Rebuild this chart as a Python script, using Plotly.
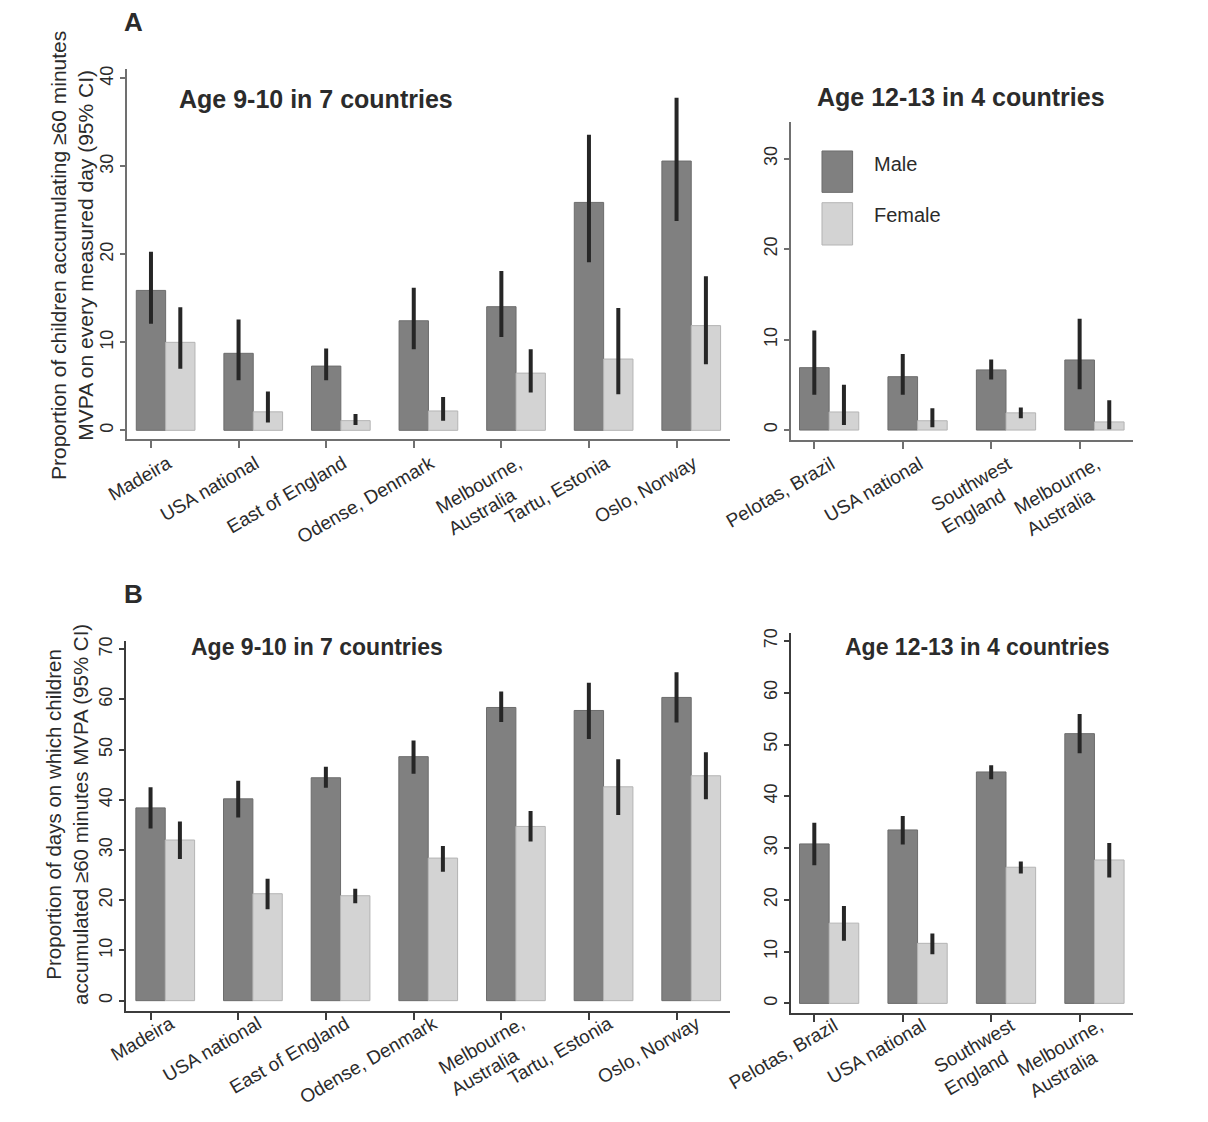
import plotly.graph_objects as go

# ---------------- data ----------------
sites_young = ["Madeira", "USA national", "East of England", "Odense, Denmark",
               "Melbourne,<br>Australia", "Tartu, Estonia", "Oslo, Norway"]
sites_old = ["Pelotas, Brazil", "USA national", "Southwest<br>England", "Melbourne,<br>Australia"]

# Panel A: proportion of children accumulating >=60 min MVPA every day
a_young_male = [15.9, 8.75, 7.3, 12.45, 14.05, 25.9, 30.6]
a_young_male_lo = [12.1, 5.7, 5.7, 9.2, 10.6, 19.1, 23.8]
a_young_male_hi = [20.3, 12.6, 9.3, 16.2, 18.1, 33.6, 37.8]
a_young_female = [10.0, 2.1, 1.1, 2.2, 6.5, 8.1, 11.9]
a_young_female_lo = [7.0, 0.9, 0.6, 1.1, 4.3, 4.1, 7.5]
a_young_female_hi = [14.0, 4.4, 1.85, 3.8, 9.2, 13.9, 17.5]

a_old_male = [6.9, 5.9, 6.65, 7.75]
a_old_male_lo = [3.9, 3.9, 5.6, 4.5]
a_old_male_hi = [11.0, 8.4, 7.8, 12.3]
a_old_female = [2.0, 1.03, 1.9, 0.9]
a_old_female_lo = [0.55, 0.3, 1.3, 0.08]
a_old_female_hi = [5.0, 2.4, 2.5, 3.3]

# Panel B: proportion of days with >=60 min MVPA
b_young_male = [38.4, 40.2, 44.4, 48.6, 58.4, 57.8, 60.4]
b_young_male_lo = [34.3, 36.5, 42.4, 45.2, 55.5, 52.1, 55.4]
b_young_male_hi = [42.5, 43.8, 46.6, 51.8, 61.6, 63.3, 65.4]
b_young_female = [32.0, 21.3, 20.9, 28.4, 34.7, 42.6, 44.8]
b_young_female_lo = [28.2, 18.2, 19.4, 25.7, 31.7, 37.0, 40.1]
b_young_female_hi = [35.7, 24.3, 22.3, 30.8, 37.8, 48.1, 49.5]

b_old_male = [30.8, 33.5, 44.7, 52.1]
b_old_male_lo = [26.7, 30.7, 43.3, 48.3]
b_old_male_hi = [34.9, 36.2, 46.0, 55.9]
b_old_female = [15.5, 11.6, 26.3, 27.7]
b_old_female_lo = [12.1, 9.5, 25.1, 24.3]
b_old_female_hi = [18.8, 13.5, 27.4, 31.0]

# ---------------- style ----------------
FONT = "Liberation Sans, Arial, sans-serif"
TXT = "#2b2b2b"
MALE = "#808080"
FEMALE = "#d3d3d3"
ERR = "#262626"
W = 0.335

fig = go.Figure()


def add_pair(cats, male, mlo, mhi, female, flo, fhi, xa, ya):
    fig.add_trace(go.Bar(
        x=cats, y=male, width=W, offset=-W / 2, xaxis=xa, yaxis=ya,
        marker=dict(color=MALE, line=dict(color="#6c6c6c", width=1)),
        error_y=dict(type="data", symmetric=False,
                     array=[h - v for h, v in zip(mhi, male)],
                     arrayminus=[v - l for v, l in zip(male, mlo)],
                     color=ERR, thickness=4, width=0),
        name="Male", showlegend=False))
    fig.add_trace(go.Bar(
        x=cats, y=female, width=W, offset=W / 2, xaxis=xa, yaxis=ya,
        marker=dict(color=FEMALE, line=dict(color="#b4b4b4", width=1)),
        error_y=dict(type="data", symmetric=False,
                     array=[h - v for h, v in zip(fhi, female)],
                     arrayminus=[v - l for v, l in zip(female, flo)],
                     color=ERR, thickness=4, width=0),
        name="Female", showlegend=False))


add_pair(sites_young, a_young_male, a_young_male_lo, a_young_male_hi,
         a_young_female, a_young_female_lo, a_young_female_hi, "x", "y")
add_pair(sites_old, a_old_male, a_old_male_lo, a_old_male_hi,
         a_old_female, a_old_female_lo, a_old_female_hi, "x2", "y2")
add_pair(sites_young, b_young_male, b_young_male_lo, b_young_male_hi,
         b_young_female, b_young_female_lo, b_young_female_hi, "x3", "y3")
add_pair(sites_old, b_old_male, b_old_male_lo, b_old_male_hi,
         b_old_female, b_old_female_lo, b_old_female_hi, "x4", "y4")

# the page body has an 8px margin, so the figure is 8px smaller and offset
OFF = 8
PW, PH = 1208 - OFF, 1122 - OFF


def px(v):
    return (v - OFF) / PW


def py(v):
    return 1 - (v - OFF) / PH


def label_text(cats):
    # second line of two-line labels is pulled back along the text direction
    return [c + "\u00a0" * 4 if "<br>" in c else c for c in cats]


def xax(cats, dom, rng, anchor, lc, shift, standoff):
    return dict(domain=dom, range=rng, anchor=anchor, type="category",
                automargin=False, tickmode="array", tickvals=cats,
                ticktext=label_text(cats),
                showline=True, linecolor=lc, linewidth=2, showgrid=False,
                zeroline=False, ticks="outside", ticklen=7, tickwidth=1.5,
                tickcolor=lc, tickangle=-30,
                ticklabelshift=shift, ticklabelstandoff=standoff,
                tickfont=dict(family=FONT, size=19, color=TXT))


def yax(dom, rng, anchor, lc, dtick):
    return dict(domain=dom, range=rng, anchor=anchor, showline=True,
                automargin=False,
                linecolor=lc, linewidth=2, showgrid=False, zeroline=False,
                ticks="outside", ticklen=5, tickwidth=1.5, tickcolor=lc,
                tick0=0, dtick=dtick, tickangle=-90,
                tickfont=dict(family=FONT, size=18, color=TXT))


LA = "#707070"
LB = "#3c3c3c"

fig.update_layout(
    template="none",
    width=PW, height=PH,
    margin=dict(l=0, r=0, t=0, b=0, pad=0),
    paper_bgcolor="white", plot_bgcolor="white",
    barmode="overlay", showlegend=False,
    font=dict(family=FONT, color=TXT),
    xaxis=xax(sites_young, [px(126.7), px(730)], [-0.277, 6.61], "y", LA, 17, -3),
    yaxis=yax([py(439.3), py(69)], [-1.02, 41.06], "x", LA, 10),
    xaxis2=xax(sites_old, [px(790.7), px(1132.7)], [-0.267, 3.6], "y2", LA, 17, -3),
    yaxis2=yax([py(440), py(121.7)], [-1.1, 34.1], "x2", LA, 10),
    xaxis3=xax(sites_young, [px(126), px(730)], [-0.28, 6.61], "y3", LB, 20, -14),
    yaxis3=yax([py(1010.7), py(640.7)], [-2.0, 71.7], "x3", LB, 10),
    xaxis4=xax(sites_old, [px(790.7), px(1132.7)], [-0.267, 3.6], "y4", LB, 20, -14),
    yaxis4=yax([py(1012.7), py(632.7)], [-1.8, 71.6], "x4", LB, 10),
)

ann = []


def txt(x, y, s, size, bold=False, xanchor="left", angle=0):
    ann.append(dict(xref="paper", yref="paper", x=x, y=y,
                    text=("<b>%s</b>" % s) if bold else s, showarrow=False,
                    xanchor=xanchor, yanchor="middle", textangle=angle,
                    font=dict(family=FONT, size=size, color=TXT)))


txt(px(133), py(22), "A", 26, bold=True, xanchor="center")
txt(px(133), py(594), "B", 26, bold=True, xanchor="center")
txt(px(177), py(99), "Age 9-10 in 7 countries", 25, bold=True)
txt(px(815), py(97), "Age 12-13 in 4 countries", 25, bold=True)
txt(px(189), py(647), "Age 9-10 in 7 countries", 23, bold=True)
txt(px(843), py(647), "Age 12-13 in 4 countries", 23, bold=True)
txt(px(72), py(256), "Proportion of children accumulating ≥60 minutes<br>MVPA on every measured day (95% CI)",
    21, xanchor="center", angle=-90)
txt(px(67), py(815), "Proportion of days on which children<br>accumulated ≥60 minutes MVPA (95% CI)",
    20.5, xanchor="center", angle=-90)

# legend (inside panel A right)
ann.append(dict(xref="x2 domain", yref="y2 domain", x=0.2368, y=0.867, text="Male",
                showarrow=False, xanchor="left", yanchor="middle",
                font=dict(family=FONT, size=20, color=TXT)))
ann.append(dict(xref="x2 domain", yref="y2 domain", x=0.2368, y=0.707, text="Female",
                showarrow=False, xanchor="left", yanchor="middle",
                font=dict(family=FONT, size=20, color=TXT)))
fig.update_layout(annotations=ann)

fig.update_layout(shapes=[
    dict(type="rect", xref="x2 domain", yref="y2 domain", x0=0.0915, x1=0.181,
         y0=0.778, y1=0.908, fillcolor=MALE, line=dict(color="#6c6c6c", width=1)),
    dict(type="rect", xref="x2 domain", yref="y2 domain", x0=0.0915, x1=0.181,
         y0=0.6126, y1=0.7455, fillcolor=FEMALE, line=dict(color="#b4b4b4", width=1)),
])

fig.write_html("out.html")
